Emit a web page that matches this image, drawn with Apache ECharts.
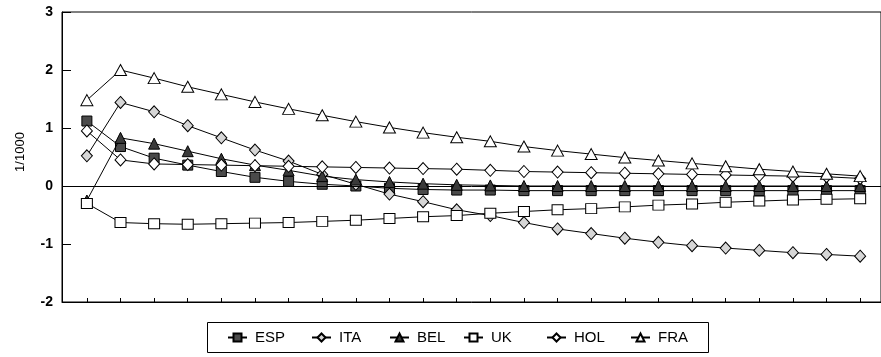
<!DOCTYPE html>
<html>
<head>
<meta charset="utf-8">
<script src="https://cdn.jsdelivr.net/npm/echarts@6/dist/echarts.min.js"></script>
<style>html,body{margin:0;padding:0;background:#fff;}#c{width:881px;height:357px;}</style>
</head>
<body>
<div id="c"></div>
<script>
const periods = [0,1,2,3,4,5,6,7,8,9,10,11,12,13,14,15,16,17,18,19,20,21,22,23];
const yTicks = [-2,-1,0,1,2,3];
const yTitle = '1/1000';
const ESP = [1.12,0.68,0.48,0.36,0.25,0.15,0.08,0.03,0.00,-0.04,-0.06,-0.07,-0.07,-0.08,-0.08,-0.08,-0.08,-0.08,-0.08,-0.08,-0.08,-0.08,-0.08,-0.08];
const ITA = [0.52,1.44,1.28,1.04,0.83,0.62,0.43,0.20,0.03,-0.14,-0.27,-0.41,-0.51,-0.63,-0.74,-0.82,-0.90,-0.97,-1.03,-1.07,-1.11,-1.15,-1.18,-1.21];
const BEL = [-0.25,0.83,0.73,0.60,0.47,0.36,0.27,0.17,0.11,0.07,0.04,0.02,0.01,0.00,0.00,0.00,0.00,0.00,0.00,0.00,0.00,0.00,0.00,0.00];
const UK  = [-0.30,-0.63,-0.65,-0.66,-0.65,-0.64,-0.63,-0.61,-0.59,-0.56,-0.53,-0.51,-0.47,-0.44,-0.41,-0.39,-0.36,-0.33,-0.31,-0.28,-0.26,-0.24,-0.23,-0.22];
const HOL = [0.95,0.45,0.38,0.37,0.36,0.35,0.34,0.33,0.32,0.31,0.30,0.29,0.27,0.25,0.24,0.23,0.22,0.21,0.20,0.19,0.18,0.17,0.16,0.13];
const FRA = [1.48,2.00,1.86,1.71,1.58,1.45,1.33,1.22,1.11,1.01,0.92,0.84,0.77,0.68,0.61,0.55,0.49,0.44,0.39,0.34,0.29,0.25,0.21,0.17];
const seriesNames = ['ESP','ITA','BEL','UK','HOL','FRA'];

const toPts = arr => arr.map((v,i)=>[periods[i], v]);
const styles = {
  ESP: {symbol:'rect', size:[10,10], fill:'#4a4a4a'},
  ITA: {symbol:'diamond', size:[11,12], fill:'#d6d6d6'},
  BEL: {symbol:'triangle', size:[11,11], fill:'#3a3a3a'},
  UK:  {symbol:'rect', size:[11,10], fill:'#ffffff'},
  HOL: {symbol:'diamond', size:[11,12], fill:'#ffffff'},
  FRA: {symbol:'triangle', size:[12,11], fill:'#ffffff'}
};
const dataMap = {ESP, ITA, BEL, UK, HOL, FRA};

const series = seriesNames.map((n, k) => {
  const st = styles[n];
  const s = {
    name: n, type: 'line', data: toPts(dataMap[n]),
    symbol: st.symbol, symbolSize: st.size, showAllSymbol: true,
    lineStyle: {color:'#000', width:1},
    itemStyle: {color: st.fill, borderColor:'#000', borderWidth:1},
    emphasis: {disabled: true},
    z: 3 + k
  };
  if (k === 0) {
    s.markLine = {silent:true, symbol:'none', label:{show:false}, animation:false,
      lineStyle:{color:'#000', width:1, type:'solid'}, data:[{yAxis:0}]};
  }
  return s;
});

// one legend per item so each sits where the reference puts it
const legendLefts = [227, 311, 389, 463, 546, 630];
const legends = seriesNames.map((n, k) => ({
  data: [n], left: legendLefts[k], top: 330,
  padding: 0, itemWidth: 19, itemHeight: 10, itemGap: 0,
  textStyle: {fontFamily: 'Liberation Sans', fontSize: 15, color: '#000', padding: [0,0,0,3]},
  selectedMode: false
}));

const chart = echarts.init(document.getElementById('c'), null, {renderer:'canvas'});
chart.setOption({
  animation: false,
  backgroundColor: '#fff',
  grid: {left: 62, right: -2, top: 12, bottom: 55, show: true, borderColor: '#000', borderWidth: 1},
  xAxis: {
    type: 'value', min: -0.74, max: 23.62,
    axisLine: {show: true, onZero: false, lineStyle: {color:'#000', width:1}},
    axisTick: {show: true, inside: true, length: 4, customValues: periods, lineStyle:{color:'#000'}},
    axisLabel: {show: false},
    splitLine: {show: false}
  },
  yAxis: {
    type: 'value', min: yTicks[0], max: yTicks[yTicks.length-1], interval: 1,
    axisLine: {show: true, onZero: false, lineStyle: {color:'#000', width:1}},
    axisTick: {show: true, inside: true, length: 9, lineStyle:{color:'#000'}},
    axisLabel: {fontFamily: 'Liberation Sans', fontSize: 14, fontWeight: 'bold', color: '#000', margin: 9},
    splitLine: {show: false}
  },
  legend: legends,
  graphic: [{
    type: 'rect', left: 205, top: 320, silent: true,
    shape: {width: 501, height: 30},
    style: {fill: 'none', stroke: '#000', lineWidth: 1}
  }, {
    type: 'text', x: 20, y: 152, rotation: Math.PI / 2, silent: true,
    style: {text: yTitle, align: 'center', verticalAlign: 'middle', fill: '#000',
      font: '13px "Liberation Sans"'}
  }],
  series: series
});
</script>
</body>
</html>
